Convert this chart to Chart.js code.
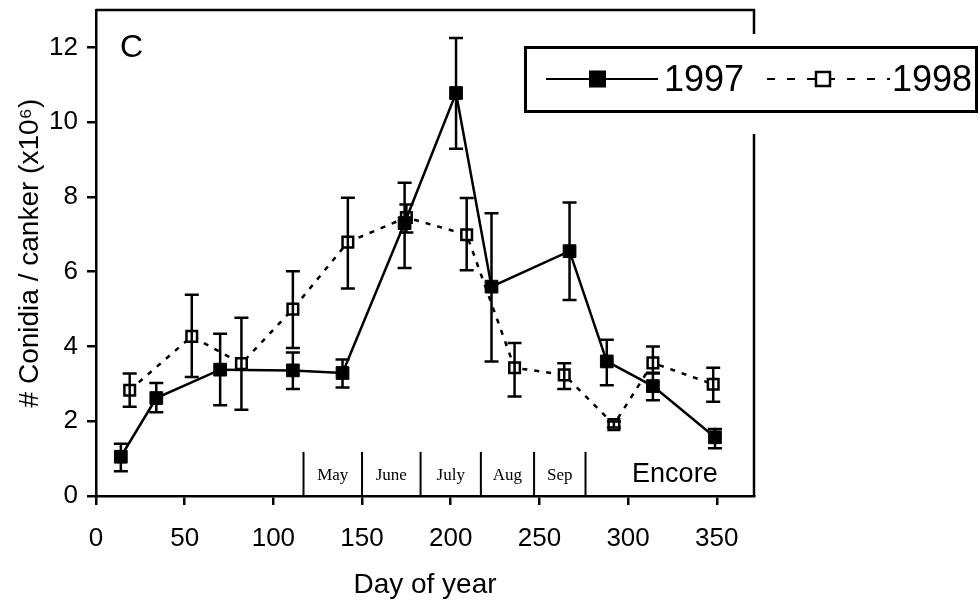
<!DOCTYPE html>
<html lang="en">
<head>
<meta charset="UTF-8">
<title>Conidia / canker</title>
<script src="https://cdn.jsdelivr.net/npm/chart.js"></script>
<style>
  html, body {
    margin: 0;
    padding: 0;
    background: #fff;
  }
  canvas {
    display: block;
  }
</style>
</head>
<body>
<canvas id="chart" width="980" height="605"></canvas>
<script>
  // 1997 series (filled squares, solid line)
  const days1997 = [14, 34, 70, 111, 139, 174, 203, 223, 267, 288, 314, 349];
  const vals1997 = [1.05, 2.62, 3.38, 3.36, 3.29, 7.30, 10.78, 5.60, 6.55, 3.60, 2.94, 1.57];
  const hi1997 = [1.40, 3.02, 4.34, 3.84, 3.65, 8.38, 12.25, 7.56, 7.85, 4.18, 3.28, 1.79];
  const lo1997 = [0.66, 2.24, 2.43, 2.86, 2.90, 6.10, 9.29, 3.60, 5.24, 2.96, 2.56, 1.28];

  // 1998 series (open squares, dashed line)
  const days1998 = [19, 54, 82, 111, 142, 175, 209, 236, 264, 292, 314, 348];
  const vals1998 = [2.83, 4.27, 3.54, 5.00, 6.79, 7.45, 6.99, 3.43, 3.24, 1.91, 3.56, 2.99];
  const hi1998 = [3.28, 5.38, 4.77, 6.01, 7.98, 7.80, 7.97, 4.09, 3.55, 1.99, 4.00, 3.43];
  const lo1998 = [2.39, 3.18, 2.31, 3.96, 5.55, 7.05, 6.04, 2.66, 2.86, 1.83, 3.30, 2.52];

  // month strip along the x axis
  const monthEdges = [117, 150, 183, 217, 247, 276];
  const monthNames = ['May', 'June', 'July', 'Aug', 'Sep'];

  const SANS = '"Liberation Sans", Arial, sans-serif';
  const SERIF = '"Liberation Serif", "Times New Roman", serif';

  function toPoints(xs, ys) {
    return xs.map((x, i) => ({ x: x, y: ys[i] }));
  }

  // error bars, drawn from the hi/lo arrays through the scales
  const errorBars = {
    id: 'errorBars',
    afterDatasetsDraw(chart) {
      const { ctx, scales: { x, y } } = chart;
      const sets = [
        { xs: days1997, hi: hi1997, lo: lo1997 },
        { xs: days1998, hi: hi1998, lo: lo1998 }
      ];
      ctx.save();
      ctx.strokeStyle = '#000';
      ctx.lineWidth = 2.5;
      ctx.setLineDash([]);
      sets.forEach(s => {
        s.xs.forEach((d, i) => {
          const px = x.getPixelForValue(d);
          const top = y.getPixelForValue(s.hi[i]);
          const bot = y.getPixelForValue(s.lo[i]);
          ctx.beginPath();
          ctx.moveTo(px, top);
          ctx.lineTo(px, bot);
          ctx.moveTo(px - 7, top);
          ctx.lineTo(px + 7, top);
          ctx.moveTo(px - 7, bot);
          ctx.lineTo(px + 7, bot);
          ctx.stroke();
        });
      });
      ctx.restore();
    }
  };

  // frame, month strip, panel letter, cultivar name
  const annotations = {
    id: 'annotations',
    beforeDatasetsDraw(chart) {
      const { ctx, chartArea: a, scales: { x, y } } = chart;
      ctx.save();
      ctx.strokeStyle = '#000';
      ctx.lineWidth = 2.5;
      ctx.beginPath();
      ctx.moveTo(a.left, a.top);
      ctx.lineTo(a.right, a.top);
      ctx.lineTo(a.right, a.bottom);
      ctx.stroke();

      ctx.lineWidth = 2;
      const lineTop = y.getPixelForValue(1.18);
      monthEdges.forEach(d => {
        const px = x.getPixelForValue(d);
        ctx.beginPath();
        ctx.moveTo(px, a.bottom);
        ctx.lineTo(px, lineTop);
        ctx.stroke();
      });
      ctx.fillStyle = '#000';
      ctx.font = '17px ' + SERIF;
      ctx.textAlign = 'center';
      ctx.textBaseline = 'middle';
      monthNames.forEach((m, i) => {
        const mid = (monthEdges[i] + monthEdges[i + 1]) / 2;
        ctx.fillText(m, x.getPixelForValue(mid), y.getPixelForValue(0.56));
      });

      ctx.font = '27px ' + SANS;
      ctx.textAlign = 'right';
      ctx.textBaseline = 'alphabetic';
      ctx.fillText('Encore', x.getPixelForValue(350.5), y.getPixelForValue(0.37));

      ctx.font = '32px ' + SANS;
      ctx.textAlign = 'left';
      ctx.fillText('C', x.getPixelForValue(13.5), y.getPixelForValue(11.75));
      ctx.restore();
    }
  };

  // boxed legend sitting over the top right corner of the frame
  const boxLegend = {
    id: 'boxLegend',
    afterDraw(chart) {
      const { ctx } = chart;
      const ds = chart.data.datasets;
      const cy = 79;
      ctx.save();
      ctx.fillStyle = '#fff';
      ctx.fillRect(508, 34, 472, 100);
      ctx.strokeStyle = '#000';
      ctx.lineWidth = 3;
      ctx.strokeRect(525.5, 47.5, 451, 64);

      // 1997 sample
      ctx.lineWidth = 2;
      ctx.beginPath();
      ctx.moveTo(546, cy);
      ctx.lineTo(658, cy);
      ctx.stroke();
      ctx.fillStyle = '#000';
      ctx.fillRect(589, cy - 8.5, 17, 17);

      // 1998 sample
      ctx.setLineDash([8, 12]);
      ctx.beginPath();
      ctx.moveTo(767, cy);
      ctx.lineTo(890, cy);
      ctx.stroke();
      ctx.setLineDash([]);
      ctx.fillStyle = '#fff';
      ctx.fillRect(815, cy - 8, 16, 16);
      ctx.lineWidth = 2.5;
      ctx.strokeRect(816, cy - 7, 14, 14);

      ctx.fillStyle = '#000';
      ctx.font = '36px ' + SANS;
      ctx.textAlign = 'left';
      ctx.textBaseline = 'middle';
      ctx.fillText(ds[0].label, 664, cy + 2);
      ctx.fillText(ds[1].label, 892, cy + 2);
      ctx.restore();
    }
  };

  new Chart(document.getElementById('chart'), {
    type: 'scatter',
    data: {
      datasets: [{
        label: '1997',
        data: toPoints(days1997, vals1997),
        showLine: true,
        borderColor: '#000',
        borderWidth: 2.5,
        pointStyle: 'rect',
        pointRadius: 9,
        pointBackgroundColor: '#000',
        pointBorderColor: '#000',
        pointBorderWidth: 1
      }, {
        label: '1998',
        data: toPoints(days1998, vals1998),
        showLine: true,
        borderColor: '#000',
        borderWidth: 2.5,
        borderDash: [5, 7],
        pointStyle: 'rect',
        pointRadius: 7.5,
        pointBackgroundColor: '#fff',
        pointBorderColor: '#000',
        pointBorderWidth: 2.5
      }]
    },
    options: {
      responsive: false,
      animation: false,
      devicePixelRatio: 1,
      layout: { padding: { top: 5, right: 226, left: 0, bottom: 0 } },
      plugins: {
        legend: { display: false },
        tooltip: { enabled: false }
      },
      scales: {
        x: {
          type: 'linear',
          min: 0,
          max: 371,
          afterFit(s) {
            s.height = 109;
            s.paddingLeft = 0;
            s.paddingRight = 0;
          },
          ticks: {
            stepSize: 50,
            includeBounds: false,
            color: '#000',
            padding: 18,
            font: { size: 26, family: SANS }
          },
          grid: { drawOnChartArea: false, tickLength: 9, color: '#000', lineWidth: 2.5 },
          border: { color: '#000', width: 2.5 },
          title: {
            display: true,
            text: 'Day of year',
            color: '#000',
            font: { size: 28, family: SANS },
            padding: { top: 0, bottom: 3 }
          }
        },
        y: {
          min: 0,
          max: 13,
          afterFit(s) {
            s.width = 96;
            s.paddingTop = 0;
            s.paddingBottom = 0;
          },
          ticks: {
            stepSize: 2,
            includeBounds: false,
            color: '#000',
            padding: 9,
            font: { size: 26, family: SANS }
          },
          grid: { drawOnChartArea: false, tickLength: 9, color: '#000', lineWidth: 2.5 },
          border: { color: '#000', width: 2.5 },
          title: {
            display: true,
            text: '# Conidia / canker (x10\u2076)',
            color: '#000',
            font: { size: 28, family: SANS },
            padding: { top: 13, bottom: 0 }
          }
        }
      }
    },
    plugins: [annotations, errorBars, boxLegend]
  });
</script>
</body>
</html>
